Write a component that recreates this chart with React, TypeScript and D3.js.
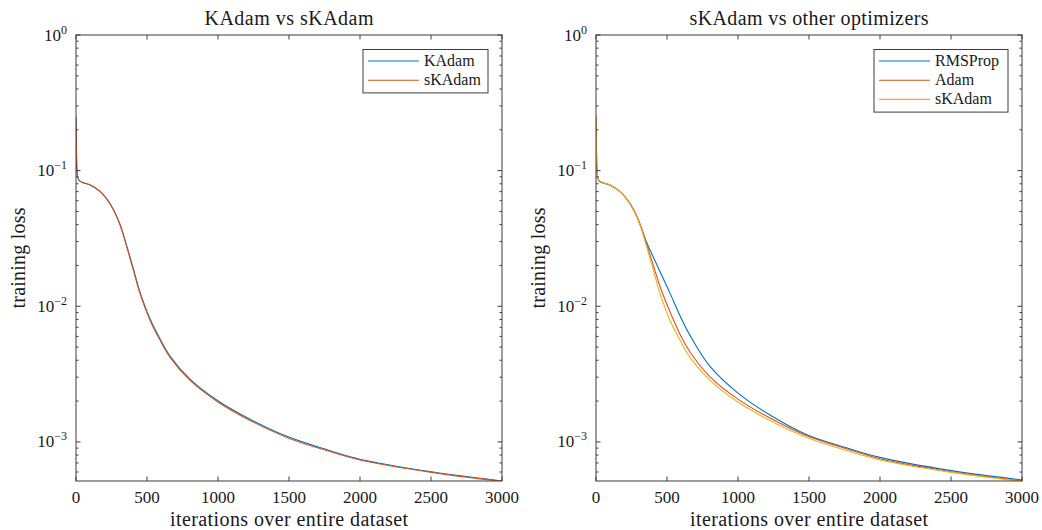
import React from "react";
import * as d3 from "d3";

const ITER = [0, 3, 7, 14, 25, 50, 99, 170, 217, 264, 310, 357, 404, 451, 521, 592, 662, 803, 1002, 1225, 1494, 1765, 1999, 2503, 3000];

const KADAM = [0.25, 0.15, 0.1, 0.088, 0.084, 0.0815, 0.0786, 0.0703, 0.062, 0.0518, 0.0403, 0.028, 0.0189, 0.0127, 0.00808, 0.00574, 0.0043, 0.0029, 0.002, 0.00147, 0.00109, 0.000878, 0.000746, 0.000602, 0.000515];
const SKADAM = [0.25, 0.15, 0.1, 0.088, 0.084, 0.0815, 0.0784, 0.07, 0.0615, 0.0513, 0.0397, 0.0274, 0.01845, 0.0124, 0.00789, 0.00561, 0.0042, 0.00284, 0.00196, 0.00144, 0.00107, 0.000864, 0.000736, 0.000596, 0.000512];
const ADAM = [0.25, 0.15, 0.1, 0.088, 0.084, 0.0815, 0.0784, 0.07, 0.0617, 0.0516, 0.0399, 0.0285, 0.02, 0.014, 0.0091, 0.0062, 0.0046, 0.00302, 0.00206, 0.0015, 0.0011, 0.00089, 0.000752, 0.000603, 0.000517];
const RMSPROP = [0.25, 0.15, 0.1, 0.087, 0.083, 0.081, 0.078, 0.07, 0.0618, 0.0518, 0.0405, 0.0295, 0.023, 0.018, 0.0125, 0.0085, 0.0061, 0.0036, 0.00228, 0.00158, 0.00112, 0.000905, 0.000769, 0.000614, 0.000524];

const X_TICKS = [0, 500, 1000, 1500, 2000, 2500, 3000];
const Y_MAJOR = [1, 0.1, 0.01, 0.001];
const Y_EXP = ["0", "\u22121", "\u22122", "\u22123"];
const Y_DOMAIN = [0.000515, 1];

const BLUE = "#0072BD";
const ORANGE = "#D95319";
const YELLOW = "#EDB120";
const FONT = "'Liberation Serif', 'Times New Roman', serif";
const AX = "#3c3c3c";

type Series = { name: string; values: number[]; color: string };

function Panel({ left, right, title, titleLen, series, legendW }: { left: number; right: number; title: string; titleLen: number; series: Series[]; legendW: number }) {
  const top = 35;
  const bottom = 481;
  const x = d3.scaleLinear().domain([0, 3000]).range([left, right]);
  const y = d3.scaleLog().domain(Y_DOMAIN).range([bottom, top]);
  const line = d3
    .line<number>()
    .x((_, i) => x(ITER[i]))
    .y((v) => y(v))
    .curve(d3.curveCatmullRom.alpha(0.5));
  const minor: number[] = [];
  for (let e = -4; e <= 0; e++) {
    for (let m = 2; m <= 9; m++) {
      const v = m * Math.pow(10, e);
      if (v >= Y_DOMAIN[0] && v <= Y_DOMAIN[1]) minor.push(v);
    }
  }
  const cx = (left + right) / 2;
  const clipId = "clip" + left;
  const legX1 = right - 14 - legendW;
  const legX2 = right - 14;
  const legTop = 49.5;
  const rowH = 19.2;
  return (
    <g>
      <defs>
        <clipPath id={clipId}>
          <rect x={left} y={top} width={right - left} height={bottom - top} />
        </clipPath>
      </defs>
      <text x={cx} y={25} textAnchor="middle" fontFamily={FONT} fontSize={20} textLength={titleLen} lengthAdjust="spacing" fill="#1a1a1a">
        {title}
      </text>
      <g clipPath={`url(#${clipId})`}>
        {series.map((s) => (
          <path key={s.name} d={line(s.values) || ""} fill="none" stroke={s.color} strokeWidth={1.1} />
        ))}
      </g>
      <rect x={left} y={top} width={right - left} height={bottom - top} fill="none" stroke={AX} strokeWidth={1} />
      {X_TICKS.map((t) => (
        <g key={t}>
          <line x1={x(t)} x2={x(t)} y1={bottom} y2={bottom - 4.5} stroke={AX} />
          <line x1={x(t)} x2={x(t)} y1={top} y2={top + 4.5} stroke={AX} />
          <text x={x(t)} y={503} textAnchor="middle" fontFamily={FONT} fontSize={17} fill="#1a1a1a">
            {t}
          </text>
        </g>
      ))}
      {Y_MAJOR.map((t, i) => (
        <g key={t}>
          <line x1={left} x2={left + 4.5} y1={y(t)} y2={y(t)} stroke={AX} />
          <line x1={right} x2={right - 4.5} y1={y(t)} y2={y(t)} stroke={AX} />
          <text x={left - 9} y={y(t) + 5.5} textAnchor="end" fontFamily={FONT} fontSize={17} fill="#1a1a1a">
            <tspan>10</tspan>
            <tspan fontSize={12} dy={-7}>{Y_EXP[i]}</tspan>
          </text>
        </g>
      ))}
      {minor.map((t) => (
        <g key={t}>
          <line x1={left} x2={left + 2.5} y1={y(t)} y2={y(t)} stroke={AX} />
          <line x1={right} x2={right - 2.5} y1={y(t)} y2={y(t)} stroke={AX} />
        </g>
      ))}
      <text x={cx} y={526} textAnchor="middle" fontFamily={FONT} fontSize={20} textLength={238} lengthAdjust="spacing" fill="#1a1a1a">
        iterations over entire dataset
      </text>
      <text transform={`translate(${left - 51},${(top + bottom) / 2}) rotate(-90)`} textAnchor="middle" fontFamily={FONT} fontSize={20} textLength={101} lengthAdjust="spacing" fill="#1a1a1a">
        training loss
      </text>
      <rect x={legX1} y={legTop} width={legX2 - legX1} height={series.length * rowH + 5} fill="#fff" stroke={AX} strokeWidth={1} />
      {series.map((s, i) => {
        const ry = legTop + 11.5 + i * rowH;
        return (
          <g key={s.name}>
            <line x1={legX1 + 5} x2={legX1 + 56} y1={ry} y2={ry} stroke={s.color} strokeWidth={1.1} />
            <text x={legX1 + 61} y={ry + 5} fontFamily={FONT} fontSize={16} fill="#1a1a1a">
              {s.name}
            </text>
          </g>
        );
      })}
    </g>
  );
}

export default function App() {
  return (
    <svg width={1042} height={530} style={{ position: "absolute", left: 0, top: 0, background: "#fff" }}>
      <rect width={1042} height={530} fill="#fff" />
      <Panel
        left={76}
        right={502}
        title="KAdam vs sKAdam"
        titleLen={169}
        legendW={125}
        series={[
          { name: "KAdam", values: KADAM, color: BLUE },
          { name: "sKAdam", values: SKADAM, color: ORANGE },
        ]}
      />
      <Panel
        left={596}
        right={1022}
        title="sKAdam vs other optimizers"
        titleLen={239}
        legendW={134}
        series={[
          { name: "RMSProp", values: RMSPROP, color: BLUE },
          { name: "Adam", values: ADAM, color: ORANGE },
          { name: "sKAdam", values: SKADAM, color: YELLOW },
        ]}
      />
    </svg>
  );
}
